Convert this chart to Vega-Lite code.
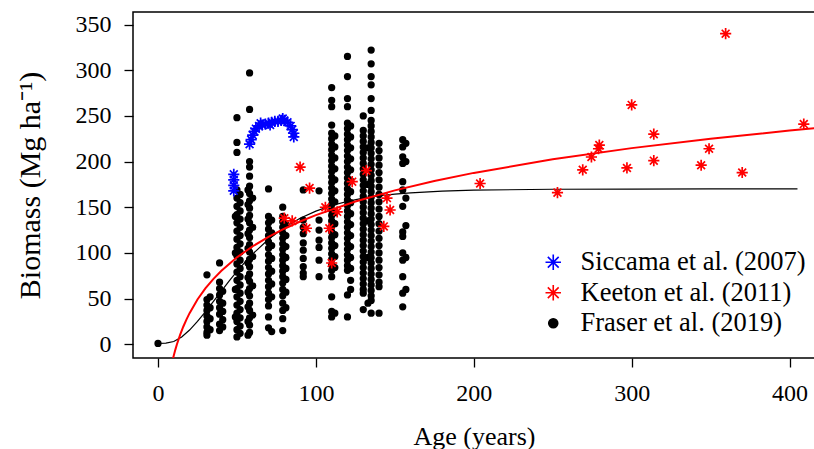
{
  "$schema": "https://vega.github.io/schema/vega-lite/v6.json",
  "width": 682,
  "height": 346,
  "autosize": {"type": "none"},
  "padding": {"left": 133, "top": 12, "right": 0, "bottom": 91},
  "background": "white",
  "config": {
    "view": {"stroke": "#000000", "strokeWidth": 1.5},
    "font": "Liberation Serif",
    "axis": {"grid": false, "domain": false, "tickColor": "#000000", "tickSize": 9, "tickWidth": 1.3, "labelFont": "Liberation Serif", "labelFontSize": 24, "labelColor": "#000000", "titleFont": "Liberation Serif", "titleFontWeight": "normal", "titleColor": "#000000"},
    "legend": {"orient": "none", "legendX": 407, "legendY": 237, "title": null, "labelFont": "Liberation Serif", "labelFontSize": 26.5, "labelColor": "#000000", "labelLimit": 400, "labelOffset": 14, "rowPadding": 3.5, "symbolStrokeWidth": 1.6, "symbolSize": 240}
  },
  "datasets": {
    "points": [
      {"study":"F","age":0,"biomass":1},
      {"study":"F","age":31,"biomass":76},{"study":"F","age":31,"biomass":49},{"study":"F","age":31,"biomass":43},{"study":"F","age":31,"biomass":37},{"study":"F","age":31,"biomass":31},{"study":"F","age":31,"biomass":25},{"study":"F","age":31,"biomass":19},{"study":"F","age":31,"biomass":13},{"study":"F","age":31,"biomass":10},
      {"study":"F","age":33,"biomass":52},{"study":"F","age":33,"biomass":40},{"study":"F","age":33,"biomass":28},{"study":"F","age":33,"biomass":16},
      {"study":"F","age":39,"biomass":89},{"study":"F","age":39,"biomass":68},{"study":"F","age":39,"biomass":61},{"study":"F","age":39,"biomass":54},{"study":"F","age":39,"biomass":47},{"study":"F","age":39,"biomass":40},{"study":"F","age":39,"biomass":33},{"study":"F","age":39,"biomass":22},{"study":"F","age":39,"biomass":15},
      {"study":"F","age":41,"biomass":58},{"study":"F","age":41,"biomass":45},{"study":"F","age":41,"biomass":36},{"study":"F","age":41,"biomass":27},{"study":"F","age":41,"biomass":19},
      {"study":"F","age":49,"biomass":140},{"study":"F","age":49,"biomass":100},{"study":"F","age":49,"biomass":60},{"study":"F","age":49,"biomass":30},
      {"study":"F","age":50,"biomass":248},{"study":"F","age":50,"biomass":221},{"study":"F","age":50,"biomass":210},{"study":"F","age":50,"biomass":169},{"study":"F","age":50,"biomass":160},{"study":"F","age":50,"biomass":151},{"study":"F","age":50,"biomass":142},{"study":"F","age":50,"biomass":133},{"study":"F","age":50,"biomass":124},{"study":"F","age":50,"biomass":115},{"study":"F","age":50,"biomass":106},{"study":"F","age":50,"biomass":97},{"study":"F","age":50,"biomass":88},{"study":"F","age":50,"biomass":79},{"study":"F","age":50,"biomass":70},{"study":"F","age":50,"biomass":61},{"study":"F","age":50,"biomass":52},{"study":"F","age":50,"biomass":43},{"study":"F","age":50,"biomass":34},{"study":"F","age":50,"biomass":25},{"study":"F","age":50,"biomass":16},{"study":"F","age":50,"biomass":8},
      {"study":"F","age":52,"biomass":164},{"study":"F","age":52,"biomass":155},{"study":"F","age":52,"biomass":146},{"study":"F","age":52,"biomass":137},{"study":"F","age":52,"biomass":128},{"study":"F","age":52,"biomass":119},{"study":"F","age":52,"biomass":110},{"study":"F","age":52,"biomass":101},{"study":"F","age":52,"biomass":92},{"study":"F","age":52,"biomass":83},{"study":"F","age":52,"biomass":74},{"study":"F","age":52,"biomass":65},{"study":"F","age":52,"biomass":56},{"study":"F","age":52,"biomass":47},{"study":"F","age":52,"biomass":38},{"study":"F","age":52,"biomass":29},{"study":"F","age":52,"biomass":20},{"study":"F","age":52,"biomass":12},
      {"study":"F","age":57,"biomass":169},{"study":"F","age":57,"biomass":153},{"study":"F","age":57,"biomass":137},{"study":"F","age":57,"biomass":121},{"study":"F","age":57,"biomass":105},{"study":"F","age":57,"biomass":89},{"study":"F","age":57,"biomass":73},{"study":"F","age":57,"biomass":57},{"study":"F","age":57,"biomass":41},{"study":"F","age":57,"biomass":25},{"study":"F","age":57,"biomass":10},
      {"study":"F","age":58,"biomass":297},{"study":"F","age":58,"biomass":257},{"study":"F","age":58,"biomass":200},{"study":"F","age":58,"biomass":194},{"study":"F","age":58,"biomass":184},{"study":"F","age":58,"biomass":173},{"study":"F","age":58,"biomass":165},{"study":"F","age":58,"biomass":157},{"study":"F","age":58,"biomass":149},{"study":"F","age":58,"biomass":141},{"study":"F","age":58,"biomass":133},{"study":"F","age":58,"biomass":125},{"study":"F","age":58,"biomass":117},{"study":"F","age":58,"biomass":109},{"study":"F","age":58,"biomass":101},{"study":"F","age":58,"biomass":93},{"study":"F","age":58,"biomass":85},{"study":"F","age":58,"biomass":77},{"study":"F","age":58,"biomass":69},{"study":"F","age":58,"biomass":61},{"study":"F","age":58,"biomass":53},{"study":"F","age":58,"biomass":45},{"study":"F","age":58,"biomass":37},{"study":"F","age":58,"biomass":29},{"study":"F","age":58,"biomass":21},{"study":"F","age":58,"biomass":13},
      {"study":"F","age":60,"biomass":160},{"study":"F","age":60,"biomass":128},{"study":"F","age":60,"biomass":96},{"study":"F","age":60,"biomass":64},{"study":"F","age":60,"biomass":32},
      {"study":"F","age":70,"biomass":170},{"study":"F","age":70,"biomass":140},{"study":"F","age":70,"biomass":133},{"study":"F","age":70,"biomass":126},{"study":"F","age":70,"biomass":119},{"study":"F","age":70,"biomass":112},{"study":"F","age":70,"biomass":105},{"study":"F","age":70,"biomass":98},{"study":"F","age":70,"biomass":91},{"study":"F","age":70,"biomass":84},{"study":"F","age":70,"biomass":77},{"study":"F","age":70,"biomass":70},{"study":"F","age":70,"biomass":63},{"study":"F","age":70,"biomass":56},{"study":"F","age":70,"biomass":49},{"study":"F","age":70,"biomass":42},{"study":"F","age":70,"biomass":30},{"study":"F","age":70,"biomass":18},
      {"study":"F","age":72,"biomass":136},{"study":"F","age":72,"biomass":122},{"study":"F","age":72,"biomass":108},{"study":"F","age":72,"biomass":94},{"study":"F","age":72,"biomass":80},{"study":"F","age":72,"biomass":66},{"study":"F","age":72,"biomass":52},{"study":"F","age":72,"biomass":14},
      {"study":"F","age":79,"biomass":150},{"study":"F","age":79,"biomass":140},{"study":"F","age":79,"biomass":134},{"study":"F","age":79,"biomass":128},{"study":"F","age":79,"biomass":122},{"study":"F","age":79,"biomass":116},{"study":"F","age":79,"biomass":110},{"study":"F","age":79,"biomass":104},{"study":"F","age":79,"biomass":98},{"study":"F","age":79,"biomass":92},{"study":"F","age":79,"biomass":86},{"study":"F","age":79,"biomass":80},{"study":"F","age":79,"biomass":74},{"study":"F","age":79,"biomass":67},{"study":"F","age":79,"biomass":60},{"study":"F","age":79,"biomass":53},{"study":"F","age":79,"biomass":45},{"study":"F","age":79,"biomass":37},{"study":"F","age":79,"biomass":28},{"study":"F","age":79,"biomass":15},
      {"study":"F","age":81,"biomass":131},{"study":"F","age":81,"biomass":119},{"study":"F","age":81,"biomass":107},{"study":"F","age":81,"biomass":95},{"study":"F","age":81,"biomass":83},{"study":"F","age":81,"biomass":71},{"study":"F","age":81,"biomass":57},{"study":"F","age":81,"biomass":40},
      {"study":"F","age":92,"biomass":169},{"study":"F","age":92,"biomass":136},{"study":"F","age":92,"biomass":128},{"study":"F","age":92,"biomass":121},{"study":"F","age":92,"biomass":111},{"study":"F","age":92,"biomass":103},{"study":"F","age":92,"biomass":94},{"study":"F","age":92,"biomass":85},{"study":"F","age":92,"biomass":78},{"study":"F","age":92,"biomass":74},
      {"study":"F","age":102,"biomass":168},{"study":"F","age":102,"biomass":136},{"study":"F","age":102,"biomass":125},{"study":"F","age":102,"biomass":114},{"study":"F","age":102,"biomass":106},{"study":"F","age":102,"biomass":92},{"study":"F","age":102,"biomass":74},
      {"study":"F","age":110,"biomass":281},{"study":"F","age":110,"biomass":267},{"study":"F","age":110,"biomass":260},{"study":"F","age":110,"biomass":240},{"study":"F","age":110,"biomass":231},{"study":"F","age":110,"biomass":225},{"study":"F","age":110,"biomass":219},{"study":"F","age":110,"biomass":213},{"study":"F","age":110,"biomass":207},{"study":"F","age":110,"biomass":201},{"study":"F","age":110,"biomass":195},{"study":"F","age":110,"biomass":189},{"study":"F","age":110,"biomass":183},{"study":"F","age":110,"biomass":177},{"study":"F","age":110,"biomass":171},{"study":"F","age":110,"biomass":165},{"study":"F","age":110,"biomass":159},{"study":"F","age":110,"biomass":153},{"study":"F","age":110,"biomass":147},{"study":"F","age":110,"biomass":141},{"study":"F","age":110,"biomass":135},{"study":"F","age":110,"biomass":129},{"study":"F","age":110,"biomass":123},{"study":"F","age":110,"biomass":117},{"study":"F","age":110,"biomass":111},{"study":"F","age":110,"biomass":105},{"study":"F","age":110,"biomass":99},{"study":"F","age":110,"biomass":93},{"study":"F","age":110,"biomass":87},{"study":"F","age":110,"biomass":81},{"study":"F","age":110,"biomass":74},{"study":"F","age":110,"biomass":52},{"study":"F","age":110,"biomass":36},{"study":"F","age":110,"biomass":30},
      {"study":"F","age":112,"biomass":228},{"study":"F","age":112,"biomass":216},{"study":"F","age":112,"biomass":204},{"study":"F","age":112,"biomass":192},{"study":"F","age":112,"biomass":180},{"study":"F","age":112,"biomass":168},{"study":"F","age":112,"biomass":156},{"study":"F","age":112,"biomass":144},{"study":"F","age":112,"biomass":132},{"study":"F","age":112,"biomass":120},{"study":"F","age":112,"biomass":108},{"study":"F","age":112,"biomass":96},{"study":"F","age":112,"biomass":84},{"study":"F","age":112,"biomass":34},
      {"study":"F","age":120,"biomass":315},{"study":"F","age":120,"biomass":293},{"study":"F","age":120,"biomass":269},{"study":"F","age":120,"biomass":260},{"study":"F","age":120,"biomass":242},{"study":"F","age":120,"biomass":236},{"study":"F","age":120,"biomass":230},{"study":"F","age":120,"biomass":224},{"study":"F","age":120,"biomass":218},{"study":"F","age":120,"biomass":212},{"study":"F","age":120,"biomass":206},{"study":"F","age":120,"biomass":200},{"study":"F","age":120,"biomass":194},{"study":"F","age":120,"biomass":188},{"study":"F","age":120,"biomass":182},{"study":"F","age":120,"biomass":176},{"study":"F","age":120,"biomass":170},{"study":"F","age":120,"biomass":164},{"study":"F","age":120,"biomass":158},{"study":"F","age":120,"biomass":152},{"study":"F","age":120,"biomass":146},{"study":"F","age":120,"biomass":140},{"study":"F","age":120,"biomass":134},{"study":"F","age":120,"biomass":128},{"study":"F","age":120,"biomass":122},{"study":"F","age":120,"biomass":116},{"study":"F","age":120,"biomass":110},{"study":"F","age":120,"biomass":104},{"study":"F","age":120,"biomass":98},{"study":"F","age":120,"biomass":92},{"study":"F","age":120,"biomass":86},{"study":"F","age":120,"biomass":81},{"study":"F","age":120,"biomass":54},{"study":"F","age":120,"biomass":30},
      {"study":"F","age":122,"biomass":239},{"study":"F","age":122,"biomass":227},{"study":"F","age":122,"biomass":215},{"study":"F","age":122,"biomass":203},{"study":"F","age":122,"biomass":191},{"study":"F","age":122,"biomass":179},{"study":"F","age":122,"biomass":167},{"study":"F","age":122,"biomass":155},{"study":"F","age":122,"biomass":143},{"study":"F","age":122,"biomass":131},{"study":"F","age":122,"biomass":119},{"study":"F","age":122,"biomass":107},{"study":"F","age":122,"biomass":95},{"study":"F","age":122,"biomass":83},{"study":"F","age":122,"biomass":70},{"study":"F","age":122,"biomass":60},
      {"study":"F","age":130,"biomass":250},{"study":"F","age":130,"biomass":234},{"study":"F","age":130,"biomass":228},{"study":"F","age":130,"biomass":222},{"study":"F","age":130,"biomass":216},{"study":"F","age":130,"biomass":210},{"study":"F","age":130,"biomass":204},{"study":"F","age":130,"biomass":198},{"study":"F","age":130,"biomass":192},{"study":"F","age":130,"biomass":186},{"study":"F","age":130,"biomass":180},{"study":"F","age":130,"biomass":174},{"study":"F","age":130,"biomass":168},{"study":"F","age":130,"biomass":162},{"study":"F","age":130,"biomass":156},{"study":"F","age":130,"biomass":150},{"study":"F","age":130,"biomass":144},{"study":"F","age":130,"biomass":138},{"study":"F","age":130,"biomass":132},{"study":"F","age":130,"biomass":126},{"study":"F","age":130,"biomass":120},{"study":"F","age":130,"biomass":114},{"study":"F","age":130,"biomass":108},{"study":"F","age":130,"biomass":102},{"study":"F","age":130,"biomass":96},{"study":"F","age":130,"biomass":90},{"study":"F","age":130,"biomass":84},{"study":"F","age":130,"biomass":78},{"study":"F","age":130,"biomass":72},{"study":"F","age":130,"biomass":66},{"study":"F","age":130,"biomass":60},{"study":"F","age":130,"biomass":56},{"study":"F","age":130,"biomass":38},
      {"study":"F","age":133,"biomass":215},{"study":"F","age":133,"biomass":175},{"study":"F","age":133,"biomass":135},{"study":"F","age":133,"biomass":95},{"study":"F","age":133,"biomass":45},
      {"study":"F","age":135,"biomass":322},{"study":"F","age":135,"biomass":307},{"study":"F","age":135,"biomass":293},{"study":"F","age":135,"biomass":284},{"study":"F","age":135,"biomass":269},{"study":"F","age":135,"biomass":256},{"study":"F","age":135,"biomass":245},{"study":"F","age":135,"biomass":239},{"study":"F","age":135,"biomass":233},{"study":"F","age":135,"biomass":227},{"study":"F","age":135,"biomass":221},{"study":"F","age":135,"biomass":215},{"study":"F","age":135,"biomass":209},{"study":"F","age":135,"biomass":203},{"study":"F","age":135,"biomass":197},{"study":"F","age":135,"biomass":191},{"study":"F","age":135,"biomass":185},{"study":"F","age":135,"biomass":179},{"study":"F","age":135,"biomass":173},{"study":"F","age":135,"biomass":167},{"study":"F","age":135,"biomass":161},{"study":"F","age":135,"biomass":155},{"study":"F","age":135,"biomass":149},{"study":"F","age":135,"biomass":143},{"study":"F","age":135,"biomass":137},{"study":"F","age":135,"biomass":131},{"study":"F","age":135,"biomass":125},{"study":"F","age":135,"biomass":119},{"study":"F","age":135,"biomass":113},{"study":"F","age":135,"biomass":107},{"study":"F","age":135,"biomass":101},{"study":"F","age":135,"biomass":95},{"study":"F","age":135,"biomass":89},{"study":"F","age":135,"biomass":83},{"study":"F","age":135,"biomass":77},{"study":"F","age":135,"biomass":71},{"study":"F","age":135,"biomass":65},{"study":"F","age":135,"biomass":59},{"study":"F","age":135,"biomass":53},{"study":"F","age":135,"biomass":48},{"study":"F","age":135,"biomass":34},
      {"study":"F","age":140,"biomass":220},{"study":"F","age":140,"biomass":212},{"study":"F","age":140,"biomass":204},{"study":"F","age":140,"biomass":196},{"study":"F","age":140,"biomass":188},{"study":"F","age":140,"biomass":180},{"study":"F","age":140,"biomass":172},{"study":"F","age":140,"biomass":164},{"study":"F","age":140,"biomass":156},{"study":"F","age":140,"biomass":148},{"study":"F","age":140,"biomass":140},{"study":"F","age":140,"biomass":132},{"study":"F","age":140,"biomass":124},{"study":"F","age":140,"biomass":116},{"study":"F","age":140,"biomass":108},{"study":"F","age":140,"biomass":100},{"study":"F","age":140,"biomass":92},{"study":"F","age":140,"biomass":84},{"study":"F","age":140,"biomass":76},{"study":"F","age":140,"biomass":68},{"study":"F","age":140,"biomass":63},{"study":"F","age":140,"biomass":34},
      {"study":"F","age":155,"biomass":224},{"study":"F","age":155,"biomass":216},{"study":"F","age":155,"biomass":205},{"study":"F","age":155,"biomass":198},{"study":"F","age":155,"biomass":178},{"study":"F","age":155,"biomass":169},{"study":"F","age":155,"biomass":151},{"study":"F","age":155,"biomass":123},{"study":"F","age":155,"biomass":118},{"study":"F","age":155,"biomass":100},{"study":"F","age":155,"biomass":92},{"study":"F","age":155,"biomass":74},{"study":"F","age":155,"biomass":56},{"study":"F","age":155,"biomass":41},
      {"study":"F","age":157,"biomass":220},{"study":"F","age":157,"biomass":200},{"study":"F","age":157,"biomass":160},{"study":"F","age":157,"biomass":130},{"study":"F","age":157,"biomass":95},{"study":"F","age":157,"biomass":60},
      {"study":"S","age":48,"biomass":186},{"study":"S","age":48,"biomass":180},{"study":"S","age":48,"biomass":174},{"study":"S","age":48,"biomass":168},
      {"study":"S","age":58,"biomass":219},{"study":"S","age":59,"biomass":224},{"study":"S","age":60,"biomass":229},{"study":"S","age":61,"biomass":233},{"study":"S","age":62,"biomass":236},{"study":"S","age":64,"biomass":239},{"study":"S","age":65,"biomass":242},{"study":"S","age":66,"biomass":240},{"study":"S","age":68,"biomass":241},{"study":"S","age":70,"biomass":242},{"study":"S","age":71,"biomass":240},{"study":"S","age":72,"biomass":243},{"study":"S","age":74,"biomass":244},{"study":"S","age":76,"biomass":244},{"study":"S","age":78,"biomass":245},{"study":"S","age":79,"biomass":247},{"study":"S","age":80,"biomass":245},{"study":"S","age":82,"biomass":243},{"study":"S","age":84,"biomass":239},{"study":"S","age":85,"biomass":235},{"study":"S","age":86,"biomass":231},{"study":"S","age":86,"biomass":227},
      {"study":"K","age":90,"biomass":194},{"study":"K","age":96,"biomass":171},{"study":"K","age":80,"biomass":138},{"study":"K","age":85,"biomass":135},{"study":"K","age":94,"biomass":127},{"study":"K","age":106,"biomass":150},{"study":"K","age":108.5,"biomass":127},{"study":"K","age":110,"biomass":89},{"study":"K","age":113.5,"biomass":145},{"study":"K","age":123,"biomass":178},{"study":"K","age":132,"biomass":190},{"study":"K","age":145,"biomass":160},{"study":"K","age":147,"biomass":147},{"study":"K","age":143,"biomass":129},
      {"study":"K","age":204,"biomass":176},{"study":"K","age":253,"biomass":166},{"study":"K","age":269,"biomass":191},{"study":"K","age":274.5,"biomass":205},{"study":"K","age":279,"biomass":214},{"study":"K","age":279.5,"biomass":218},{"study":"K","age":297,"biomass":193},{"study":"K","age":300,"biomass":262},{"study":"K","age":314,"biomass":230},{"study":"K","age":314,"biomass":201},{"study":"K","age":344,"biomass":196},{"study":"K","age":349,"biomass":214},{"study":"K","age":359.5,"biomass":340},{"study":"K","age":370,"biomass":188},{"study":"K","age":409,"biomass":241}
    ],
    "fraserFit": [
      {"age":0,"biomass":1},{"age":5,"biomass":1.3},{"age":10,"biomass":3},{"age":15,"biomass":8.1},{"age":20,"biomass":15.6},{"age":25,"biomass":25},{"age":30,"biomass":35.5},{"age":35,"biomass":46.7},{"age":40,"biomass":58},{"age":45,"biomass":69.1},{"age":50,"biomass":79.7},{"age":55,"biomass":89.7},{"age":60,"biomass":98.9},{"age":70,"biomass":114.9},{"age":80,"biomass":127.8},{"age":90,"biomass":138},{"age":100,"biomass":145.8},{"age":110,"biomass":151.9},{"age":120,"biomass":156.4},{"age":130,"biomass":159.9},{"age":140,"biomass":162.5},{"age":150,"biomass":164.4},{"age":160,"biomass":165.8},{"age":180,"biomass":167.7},{"age":200,"biomass":168.7},{"age":250,"biomass":169.7},{"age":300,"biomass":169.9},{"age":350,"biomass":170},{"age":405,"biomass":170}
    ],
    "keetonFit": [
      {"age":9,"biomass":-19.2},{"age":10,"biomass":-12.2},{"age":11,"biomass":-5.8},{"age":12,"biomass":0},{"age":14,"biomass":10.3},{"age":16,"biomass":19.2},{"age":18,"biomass":27},{"age":20,"biomass":34.1},{"age":25,"biomass":49},{"age":30,"biomass":61.1},{"age":35,"biomass":71.4},{"age":40,"biomass":80.3},{"age":50,"biomass":95.2},{"age":60,"biomass":107.3},{"age":70,"biomass":117.6},{"age":80,"biomass":126.5},{"age":90,"biomass":134.4},{"age":100,"biomass":141.4},{"age":125,"biomass":156.3},{"age":150,"biomass":168.5},{"age":175,"biomass":178.8},{"age":200,"biomass":187.6},{"age":250,"biomass":202.5},{"age":300,"biomass":214.7},{"age":350,"biomass":225},{"age":400,"biomass":233.9},{"age":420,"biomass":237.1}
    ]
  },
  "encoding": {
    "x": {"field": "age", "type": "quantitative", "scale": {"domain": [-15.83, 416.1], "nice": false, "zero": false}, "axis": {"values": [0, 100, 200, 300, 400], "title": "Age (years)", "titleFontSize": 26, "labelPadding": 14, "titlePadding": 18}},
    "y": {"field": "biomass", "type": "quantitative", "scale": {"domain": [-15, 363.7], "nice": false, "zero": false}, "axis": {"values": [0, 50, 100, 150, 200, 250, 300, 350], "title": "Biomass (Mg ha⁻¹)", "titleFontSize": 30, "labelPadding": 13, "titlePadding": 30}}
  },
  "layer": [
    {
      "data": {"name": "points"},
      "transform": [{"filter": "datum.study == 'F'"}],
      "mark": {"type": "point", "opacity": 1, "strokeWidth": 1.6, "size": 95},
      "encoding": {
        "fill": {"field": "study", "type": "nominal", "scale": {"domain": ["S", "K", "F"], "range": ["#0000ff", "#ff0000", "#000000"]}, "legend": {"labelExpr": "datum.value == 'S' ? 'Siccama et al. (2007)' : datum.value == 'K' ? 'Keeton et al. (2011)' : 'Fraser et al. (2019)'"}},
        "stroke": {"field": "study", "type": "nominal", "scale": {"domain": ["S", "K", "F"], "range": ["#0000ff", "#ff0000", "#000000"]}, "legend": {"labelExpr": "datum.value == 'S' ? 'Siccama et al. (2007)' : datum.value == 'K' ? 'Keeton et al. (2011)' : 'Fraser et al. (2019)'"}},
        "shape": {"field": "study", "type": "nominal", "scale": {"domain": ["S", "K", "F"], "range": ["M-1,0L1,0M0,-1L0,1M-0.7,-0.7L0.7,0.7M-0.7,0.7L0.7,-0.7", "M-1,0L1,0M0,-1L0,1M-0.7,-0.7L0.7,0.7M-0.7,0.7L0.7,-0.7", "M0.58,0A0.58,0.58 0 1,1 -0.58,0A0.58,0.58 0 1,1 0.58,0Z"]}, "legend": {"labelExpr": "datum.value == 'S' ? 'Siccama et al. (2007)' : datum.value == 'K' ? 'Keeton et al. (2011)' : 'Fraser et al. (2019)'"}}
      }
    },
    {
      "data": {"name": "fraserFit"},
      "mark": {"type": "line", "color": "#000000", "strokeWidth": 1.2, "clip": true}
    },
    {
      "data": {"name": "keetonFit"},
      "mark": {"type": "line", "color": "#ff0000", "strokeWidth": 2, "clip": true}
    },
    {
      "data": {"name": "points"},
      "transform": [{"filter": "datum.study != 'F'"}],
      "mark": {"type": "point", "opacity": 1, "strokeWidth": 1.7, "size": 125},
      "encoding": {
        "fill": {"field": "study", "type": "nominal"},
        "stroke": {"field": "study", "type": "nominal"},
        "shape": {"field": "study", "type": "nominal"}
      }
    }
  ]
}
